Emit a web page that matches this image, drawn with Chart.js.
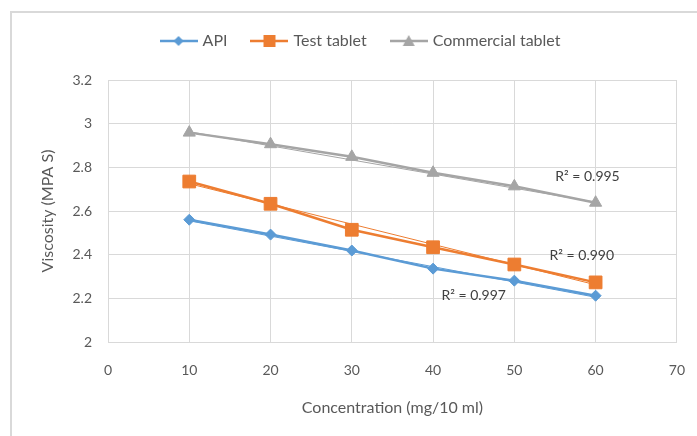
<!DOCTYPE html>
<html>
<head>
<meta charset="utf-8">
<script src="https://cdn.jsdelivr.net/npm/chart.js@4.4.1/dist/chart.umd.min.js"></script>
<style>
  html, body { margin: 0; padding: 0; background: #fff; }
  #wrap { position: relative; width: 697px; height: 436px; overflow: hidden; }
  #frame {
    position: absolute; left: 10px; top: 11px; width: 700px; height: 440px;
    border-left: 2px solid #d9d9d9; border-top: 2px solid #d9d9d9;
  }
  #chart { position: absolute; left: 0; top: 0; }
</style>
</head>
<body>
<div id="wrap">
  <div id="frame"></div>
  <canvas id="chart" width="697" height="436"></canvas>
</div>
<script>
// Data
const concentrations = [10, 20, 30, 40, 50, 60];
const apiValues = [2.560, 2.492, 2.419, 2.336, 2.281, 2.212];
const testValues = [2.735, 2.633, 2.514, 2.434, 2.355, 2.273];
const commercialValues = [2.959, 2.906, 2.848, 2.775, 2.713, 2.638];

// Linear trendlines (end points)
const trendX = [10, 60];
const apiTrend = [2.555, 2.205];
const testTrend = [2.725, 2.262];
const commercialTrend = [2.963, 2.640];

// R² labels, positioned in data units
const r2Text = ['R\u00B2 = 0.995', 'R\u00B2 = 0.990', 'R\u00B2 = 0.997'];
const r2X = [59.0, 58.3, 45.0];
const r2Y = [2.756, 2.394, 2.211];

const seriesNames = ['API', 'Test tablet', 'Commercial tablet'];
const BLUE = '#5B9BD5', ORANGE = '#ED7D31', GRAY = '#A5A5A5';
const TEXT = '#595959';
const GRID = '#d9d9d9';
const FONT = 'Lato';

function pts(xs, ys) {
    return xs.map((x, i) => ({ x: x, y: ys[i] }));
}

// Legend swatch: line with marker, like the spreadsheet legend
function legendIcon(color, shape) {
    const c = document.createElement('canvas');
    c.width = 38; c.height = 16;
    const g = c.getContext('2d');
    g.strokeStyle = color;
    g.fillStyle = color;
    g.lineWidth = 2.5;
    g.beginPath(); g.moveTo(0, 8); g.lineTo(38, 8); g.stroke();
    g.beginPath();
    if (shape === 'diamond') {
        g.moveTo(19, 3); g.lineTo(24, 8); g.lineTo(19, 13); g.lineTo(14, 8);
    } else if (shape === 'square') {
        g.rect(13, 2, 12, 12);
    } else {
        g.moveTo(19, 2); g.lineTo(25, 13); g.lineTo(13, 13);
    }
    g.closePath(); g.fill();
    return c;
}
const legendIcons = [
    legendIcon(BLUE, 'diamond'),
    legendIcon(ORANGE, 'square'),
    legendIcon(GRAY, 'triangle')
];

const r2Labels = {
    id: 'r2Labels',
    afterDatasetsDraw(chart) {
        const { ctx, scales: { x, y } } = chart;
        ctx.save();
        ctx.font = '14px ' + FONT;
        ctx.fillStyle = '#404040';
        ctx.textAlign = 'center';
        ctx.textBaseline = 'middle';
        r2Text.forEach((t, i) => {
            ctx.fillText(t, x.getPixelForValue(r2X[i]), y.getPixelForValue(r2Y[i]));
        });
        ctx.restore();
    }
};

function series(label, values, color, style, radius) {
    return {
        label: label,
        data: pts(concentrations, values),
        borderColor: color,
        backgroundColor: color,
        borderWidth: 2.5,
        pointStyle: style,
        pointRadius: radius,
        pointHoverRadius: radius,
        pointBorderWidth: 1,
        order: 1
    };
}

function trend(values, color) {
    return {
        label: 'trend',
        data: pts(trendX, values),
        borderColor: color,
        backgroundColor: color,
        borderWidth: 1,
        pointRadius: 0,
        pointHoverRadius: 0,
        order: 0
    };
}

Chart.defaults.font.family = FONT;
Chart.defaults.color = TEXT;

new Chart(document.getElementById('chart').getContext('2d'), {
    type: 'line',
    data: {
        datasets: [
            series(seriesNames[0], apiValues, BLUE, 'rectRot', 5.5),
            series(seriesNames[1], testValues, ORANGE, 'rect', 9),
            series(seriesNames[2], commercialValues, GRAY, 'triangle', 7),
            trend(apiTrend, BLUE),
            trend(testTrend, ORANGE),
            trend(commercialTrend, GRAY)
        ]
    },
    options: {
        responsive: false,
        animation: false,
        layout: { padding: { left: 37, right: 11, top: 7, bottom: 0 } },
        plugins: {
            tooltip: { enabled: false },
            legend: {
                position: 'top',
                labels: {
                    usePointStyle: true,
                    pointStyleWidth: 32,
                    padding: 26,
                    color: TEXT,
                    font: { size: 16 },
                    filter: item => item.text !== 'trend',
                    generateLabels(chart) {
                        const items = Chart.defaults.plugins.legend.labels.generateLabels(chart);
                        items.forEach(it => {
                            if (it.datasetIndex < legendIcons.length) it.pointStyle = legendIcons[it.datasetIndex];
                        });
                        return items;
                    }
                }
            },
            // empty spacer between legend and plot
            subtitle: {
                display: true,
                text: '',
                weight: 500,
                padding: 0,
                font: { size: 21, lineHeight: 1 }
            }
        },
        scales: {
            x: {
                type: 'linear',
                min: 0,
                max: 70,
                ticks: { stepSize: 10, padding: 12, font: { size: 14 }, color: TEXT },
                grid: { color: GRID, drawTicks: true, tickLength: 8, tickColor: 'rgba(0,0,0,0)' },
                border: { color: GRID },
                title: {
                    display: true,
                    text: 'Concentration (mg/10 ml)',
                    color: TEXT,
                    font: { size: 16 },
                    padding: { top: 0, bottom: 18.4 }
                },
                afterFit(scale) { scale.height = 94; }
            },
            y: {
                min: 2,
                max: 3.2,
                ticks: {
                    stepSize: 0.2,
                    padding: 16,
                    font: { size: 14 },
                    color: TEXT,
                    callback: v => String(Number(v.toFixed(1)))
                },
                grid: { color: GRID, drawTicks: false },
                border: { color: GRID },
                title: {
                    display: true,
                    text: 'Viscosity (MPA S)',
                    color: TEXT,
                    font: { size: 16 },
                    padding: { top: 0.9, bottom: 0 }
                },
                afterFit(scale) { scale.width = 71; }
            }
        }
    },
    plugins: [r2Labels]
});
</script>
</body>
</html>
